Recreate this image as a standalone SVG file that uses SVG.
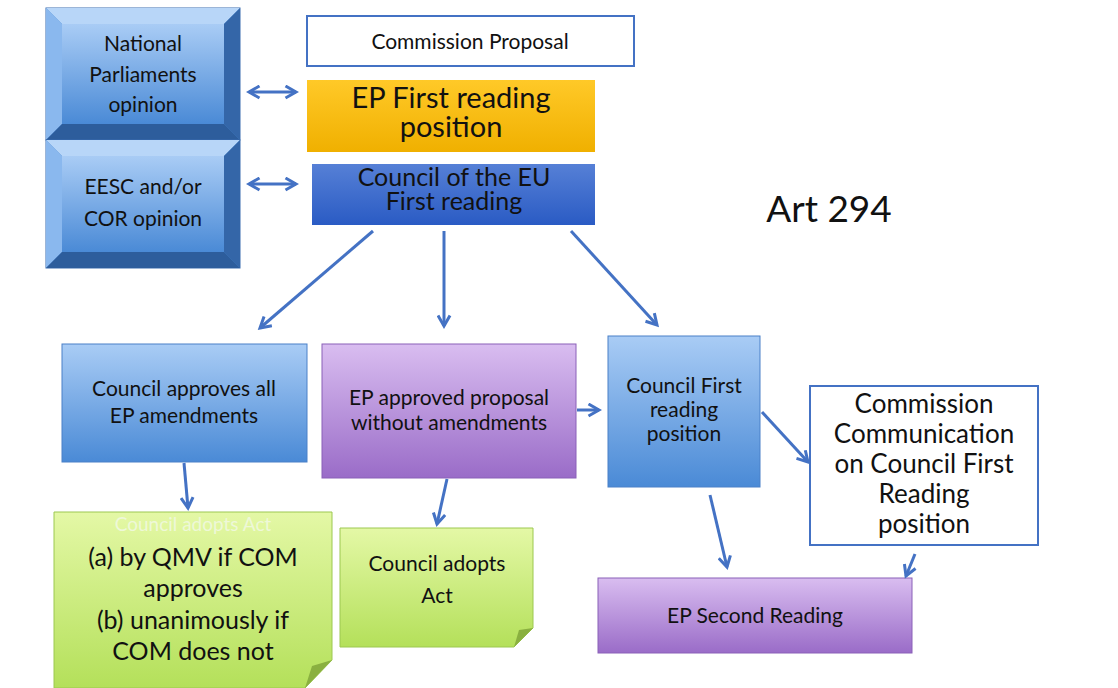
<svg xmlns="http://www.w3.org/2000/svg" width="1118" height="688" viewBox="0 0 1118 688">
<defs>
<linearGradient id="gBlue" x1="0" y1="0" x2="0" y2="1"><stop offset="0" stop-color="#a9ccf5"/><stop offset="1" stop-color="#4a8ad6"/></linearGradient>
<linearGradient id="gGold" x1="0" y1="0" x2="0" y2="1"><stop offset="0" stop-color="#ffc928"/><stop offset="1" stop-color="#f0b000"/></linearGradient>
<linearGradient id="gDark" x1="0" y1="0" x2="0" y2="1"><stop offset="0" stop-color="#5680d6"/><stop offset="1" stop-color="#2a5bc4"/></linearGradient>
<linearGradient id="gPurple" x1="0" y1="0" x2="0" y2="1"><stop offset="0" stop-color="#d9bdf0"/><stop offset="1" stop-color="#9a6cc8"/></linearGradient>
<linearGradient id="gGreen" x1="0" y1="0" x2="0" y2="1"><stop offset="0" stop-color="#e4f8a6"/><stop offset="1" stop-color="#b4e05a"/></linearGradient>
<marker id="ah" viewBox="0 0 10 10" refX="8" refY="5" markerWidth="5" markerHeight="5" orient="auto-start-reverse"><path d="M1,1 L8,5 L1,9" fill="none" stroke="#4472c4" stroke-width="2"/></marker>
</defs>
<style>
text{font-family:Lato,"Open Sans",sans-serif;text-anchor:middle;fill:#111}
.c{stroke:#4472c4;stroke-width:3;fill:none;marker-end:url(#ah)}
.d{stroke:#4472c4;stroke-width:3;fill:none;marker-end:url(#ah);marker-start:url(#ah)}
</style>
<rect width="1118" height="688" fill="#fff"/>
<g id="national">
<rect x="46" y="8" width="194" height="132" fill="#4a8ad6" stroke="#3a6db0"/>
<polygon points="46,8 240,8 224,24 62,24" fill="#b8d6f8"/>
<polygon points="46,8 62,24 62,124 46,140" fill="#8ab8ee"/>
<polygon points="240,8 240,140 224,124 224,24" fill="#3466a8"/>
<polygon points="46,140 240,140 224,124 62,124" fill="#2d5d9c"/>
<rect x="62" y="24" width="162" height="100" fill="url(#gBlue)"/>
<text x="143" y="51" font-size="21">National</text><text x="143" y="82" font-size="21">Parliaments</text><text x="143" y="112" font-size="21">opinion</text>
</g>
<g id="eesc">
<rect x="46" y="140" width="194" height="128" fill="#4a8ad6" stroke="#3a6db0"/>
<polygon points="46,140 240,140 224,156 62,156" fill="#b8d6f8"/>
<polygon points="46,140 62,156 62,252 46,268" fill="#8ab8ee"/>
<polygon points="240,140 240,268 224,252 224,156" fill="#3466a8"/>
<polygon points="46,268 240,268 224,252 62,252" fill="#2d5d9c"/>
<rect x="62" y="156" width="162" height="96" fill="url(#gBlue)"/>
<text x="143" y="194" font-size="21">EESC and/or</text><text x="143" y="226" font-size="21">COR opinion</text>
</g>
<g id="commission"><rect x="307" y="16" width="327" height="50" fill="#fff" stroke="#4472c4" stroke-width="2"/><text x="470" y="49" font-size="21">Commission Proposal</text></g>
<g id="epfirst"><rect x="307" y="80" width="288" height="72" fill="url(#gGold)"/><text x="451" y="108" font-size="29">EP First reading</text><text x="451" y="137" font-size="29">position</text></g>
<g id="council"><rect x="312" y="164" width="283" height="61" fill="url(#gDark)"/><text x="454" y="186" font-size="25">Council of the EU</text><text x="454" y="210" font-size="25">First reading</text></g>
<g id="art"><text x="829" y="222" font-size="37">Art 294</text></g>
<g id="approves"><rect x="62" y="344" width="245" height="118" fill="url(#gBlue)" stroke="#4a80c8"/><text x="184" y="396" font-size="21">Council approves all</text><text x="184" y="423" font-size="21">EP amendments</text></g>
<g id="epapproved"><rect x="322" y="344" width="254" height="134" fill="url(#gPurple)" stroke="#8a60b8"/><text x="449" y="405" font-size="21">EP approved proposal</text><text x="449" y="430" font-size="21">without amendments</text></g>
<g id="cfirst"><rect x="608" y="336" width="152" height="151" fill="url(#gBlue)" stroke="#4a80c8"/><text x="684" y="393" font-size="21">Council First</text><text x="684" y="417" font-size="21">reading</text><text x="684" y="441" font-size="21">position</text></g>
<g id="ccomm"><rect x="810" y="386" width="228" height="159" fill="#fff" stroke="#4472c4" stroke-width="2"/>
<text x="924" y="413" font-size="26">Commission</text><text x="924" y="443" font-size="26">Communication</text><text x="924" y="473" font-size="26">on Council First</text><text x="924" y="503" font-size="26">Reading</text><text x="924" y="533" font-size="26">position</text></g>
<g id="adopt1"><path d="M54,512 H332 V660 L305,688 H54 Z" fill="url(#gGreen)" stroke="#9cc850"/><path d="M305,688 L312,666 L332,660 Z" fill="#8ab040"/>
<text x="193" y="531" font-size="19" style="fill:#eef8d8">Council adopts Act</text>
<text x="193" y="566" font-size="25">(a) by QMV  if COM</text><text x="193" y="597" font-size="25">approves</text><text x="193" y="629" font-size="25">(b) unanimously if</text><text x="193" y="660" font-size="25">COM does not</text></g>
<g id="adopt2"><path d="M340,528 H533 V628 L514,647 H340 Z" fill="url(#gGreen)" stroke="#9cc850"/><path d="M514,647 L519,630 L533,628 Z" fill="#8ab040"/>
<text x="437" y="571" font-size="21">Council adopts</text><text x="437" y="603" font-size="21">Act</text></g>
<g id="second"><rect x="598" y="578" width="314" height="75" fill="url(#gPurple)" stroke="#8a60b8"/><text x="755" y="623" font-size="21">EP Second Reading</text></g>
<g id="connectors">
<line class="d" x1="249" y1="92" x2="296" y2="92"/>
<line class="d" x1="249" y1="184" x2="296" y2="184"/>
<line class="c" x1="373" y1="231" x2="260" y2="328"/>
<line class="c" x1="444" y1="231" x2="444" y2="326"/>
<line class="c" x1="571" y1="231" x2="657" y2="325"/>
<line class="c" x1="577" y1="410" x2="599" y2="410"/>
<line class="c" x1="762" y1="412" x2="808" y2="462"/>
<line class="c" x1="710" y1="495" x2="727" y2="567"/>
<line class="c" x1="915" y1="554" x2="906" y2="576"/>
<line class="c" x1="184" y1="463" x2="188" y2="508"/>
<line class="c" x1="447" y1="479" x2="437" y2="524"/>
</g>
</svg>
